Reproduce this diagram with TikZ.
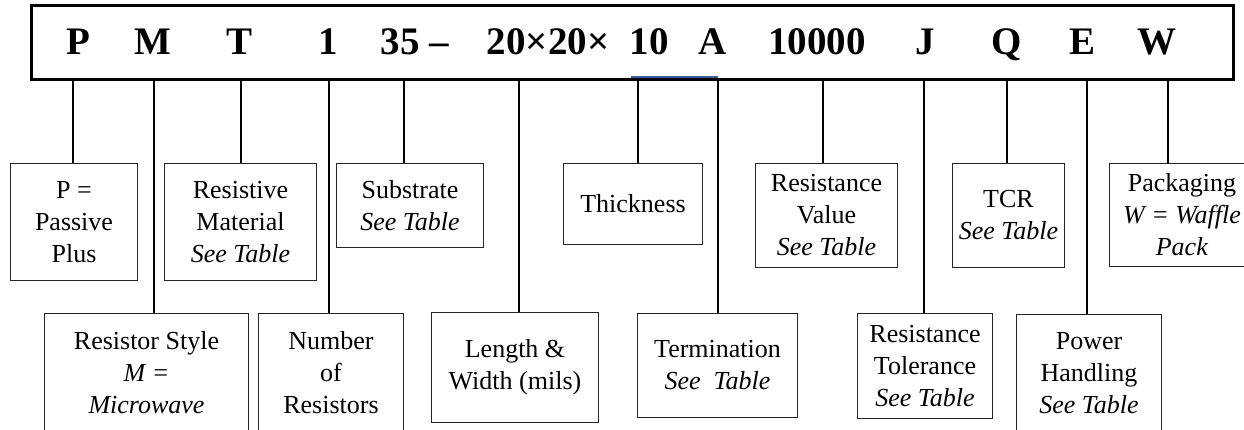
\documentclass[tikz,border=0pt]{standalone}
\usepackage{fontspec}
\setmainfont{Liberation Serif}
\usepackage{tikz}
\definecolor{blueline}{RGB}{60,95,155}
\tikzstyle{codebox}=[rectangle, draw=black!85, line width=1pt, inner sep=0pt, align=center, anchor=north west, font=\fontsize{26}{32}\selectfont]
\tikzstyle{code}=[anchor=base, inner sep=0pt, font=\fontsize{39}{40}\selectfont\bfseries]
\tikzstyle{lead}=[line width=2pt]

\begin{document}
\begin{tikzpicture}[x=1pt, y=-1pt]
        \clip (0,0) rectangle (1244,429);

        % Le bandeau
        \node[draw, line width=2.5pt, anchor=north west, minimum width=1202pt, minimum height=74pt, inner sep=0pt] (bar) at (30,4) {};
        \draw[blueline, line width=2pt] (631,77) -- (718,77);

        % Les lettres du code
        \node[code] (cP) at (78,54) {P};
        \node[code] (cM) at (153,54) {M};
        \node[code] (cT) at (240,54) {T};
        \node[code] (cN) at (328,54) {1};
        \node[code] (cS) at (415,54) {35 –};
        \node[code] (cLW) at (548,54) {20×20×};
        \node[code] (cTh) at (649,54) {10};
        \node[code] (cA) at (713,54) {A};
        \node[code] (cV) at (817,54) {10000};
        \node[code] (cJ) at (925,54) {J};
        \node[code] (cQ) at (1007,54) {Q};
        \node[code] (cE) at (1082,54) {E};
        \node[code] (cW) at (1157,54) {W};

        % Les cases du haut
        \node[codebox, minimum width=127pt, minimum height=117pt] (passive) at (10,163) {P =\\ Passive\\ Plus};
        \node[codebox, minimum width=152pt, minimum height=117pt] (material) at (164,163) {Resistive\\ Material\\ \textit{See Table}};
        \node[codebox, minimum width=147pt, minimum height=84pt] (substrate) at (336,163) {Substrate\\ \textit{See Table}};
        \node[codebox, minimum width=139pt, minimum height=81pt] (thickness) at (563,163) {Thickness};
        \node[codebox, minimum width=142pt, minimum height=104pt] (value) at (755,163) {Resistance\\ Value\\ \textit{See Table}};
        \node[codebox, minimum width=112pt, minimum height=104pt] (tcr) at (952,163) {TCR\\ \textit{See Table}};
        \node[codebox, minimum width=145pt, minimum height=103pt] (packaging) at (1109,163) {Packaging\\ \textit{W = Waffle}\\ \textit{Pack}};

        % Les cases du bas
        \node[codebox, minimum width=204pt, minimum height=118pt] (style) at (44,313) {Resistor Style\\ \textit{M =}\\ \textit{Microwave}};
        \node[codebox, minimum width=145pt, minimum height=118pt] (number) at (258,313) {Number\\ of\\ Resistors};
        \node[codebox, minimum width=167pt, minimum height=110pt] (size) at (431,312) {Length \&\\ Width (mils)};
        \node[codebox, minimum width=160pt, minimum height=104pt] (termination) at (637,313) {Termination\\ \textit{See~~Table}};
        \node[codebox, minimum width=135pt, minimum height=105pt] (tolerance) at (857,313) {Resistance\\ Tolerance\\ \textit{See Table}};
        \node[codebox, minimum width=145pt, minimum height=118pt] (power) at (1016,314) {Power\\ Handling\\ \textit{See Table}};

        % Les traits
        \foreach \x/\target in {73/passive, 154/style, 241/material, 329/number, 404/substrate, 519/size, 638/thickness, 718/termination, 823/value, 924/tolerance, 1007/tcr, 1087/power, 1168/packaging} {
            \coordinate (t\target) at (\x,78);
            \draw[lead] (t\target) -- (t\target |- \target.north);
        }
    \end{tikzpicture}
\end{document}
